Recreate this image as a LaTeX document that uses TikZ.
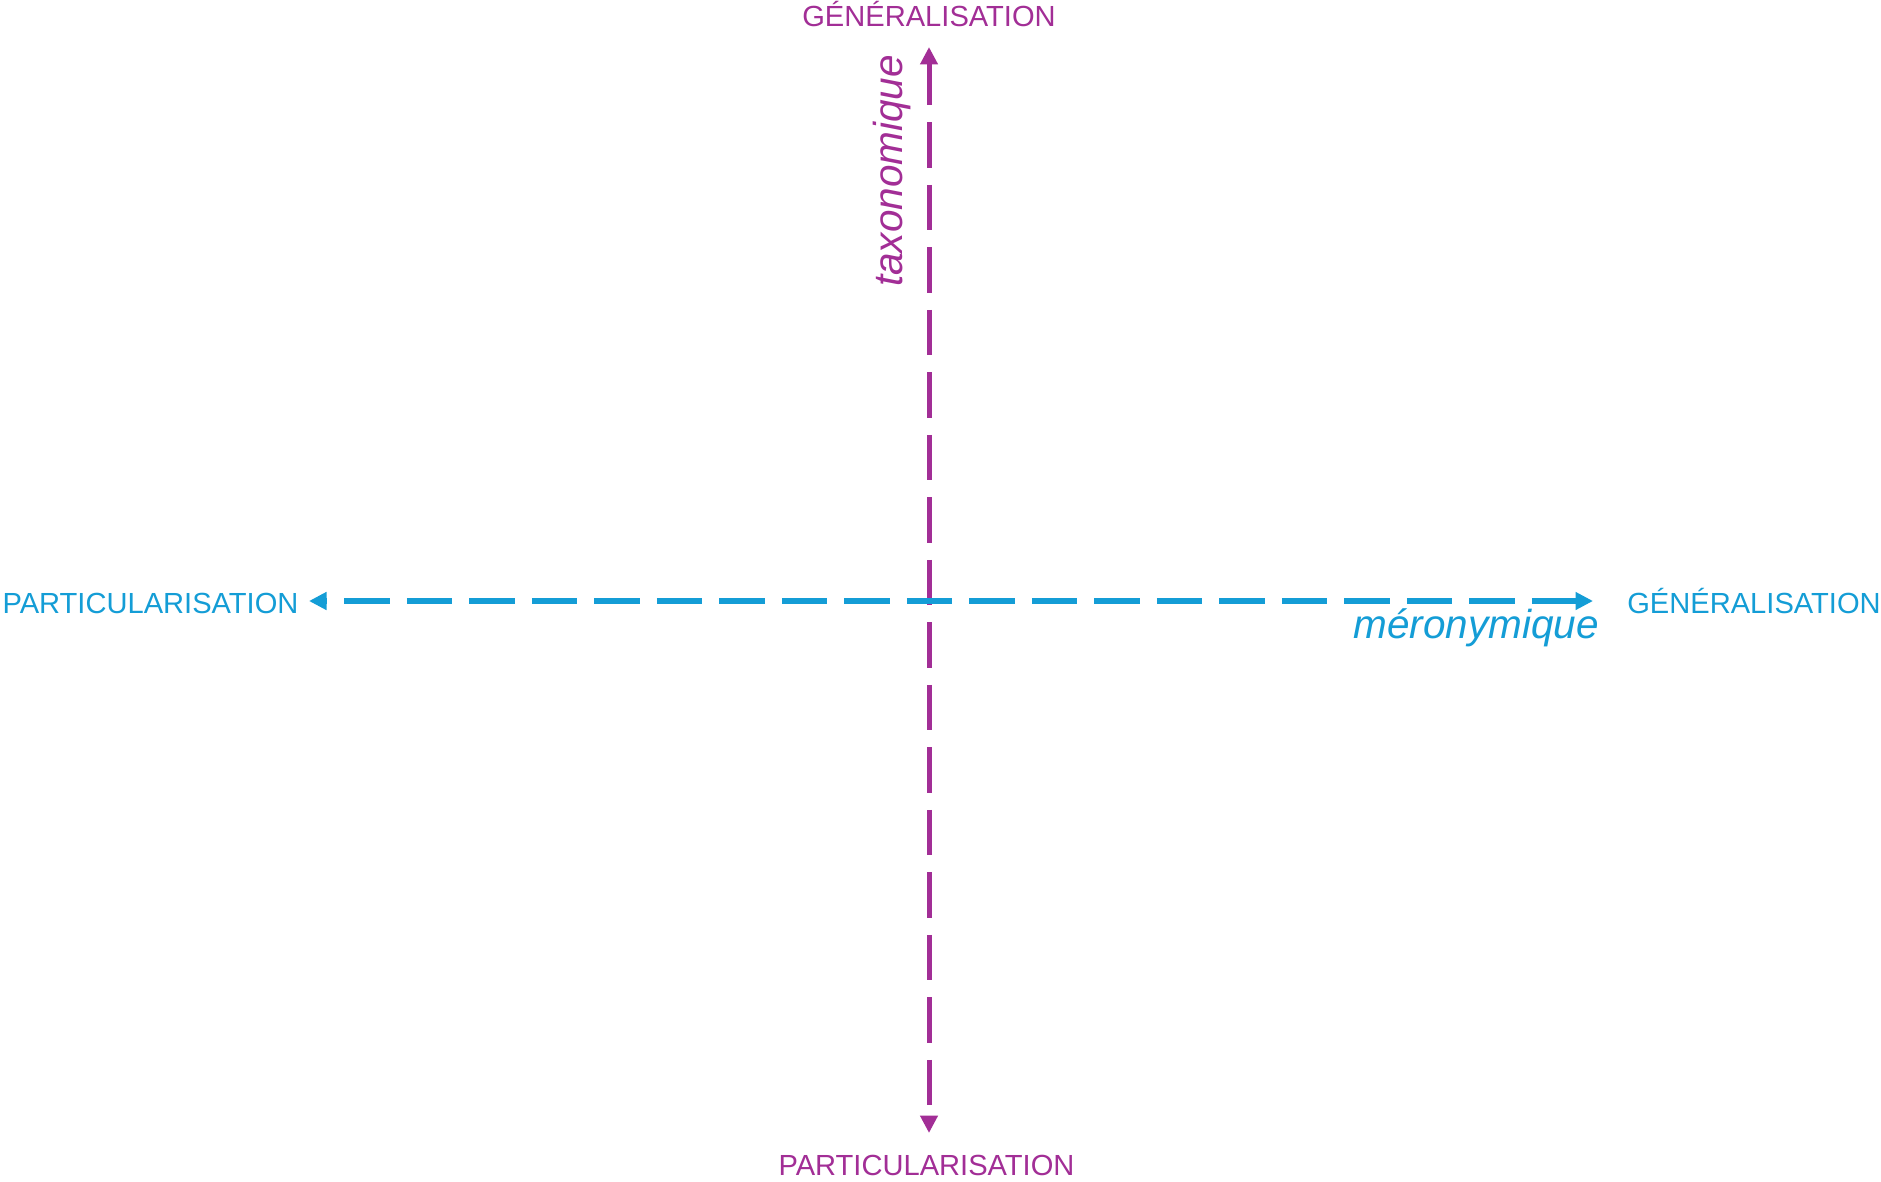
\documentclass[tikz,border=0pt]{standalone}
\usepackage{fontspec}
\setmainfont{Liberation Sans}
\usetikzlibrary{arrows.meta}
\definecolor{taxo}{RGB}{162,46,150}
\definecolor{mero}{RGB}{20,157,214}
\tikzset{
  axislabel/.style={inner sep=0pt, anchor=base, font=\fontsize{29.1}{34}\selectfont},
  axisname/.style={inner sep=0pt, anchor=base, font=\fontsize{40.5}{46}\selectfont\itshape},
  axisline/.style={dash pattern=on 45.5pt off 17pt, {Triangle[length=17.5pt,width=17pt]}-{Triangle[length=17.5pt,width=17pt]}},
}
\begin{document}
\begin{tikzpicture}[x=1pt,y=-1pt]
\useasboundingbox[fill=white] (0,0) rectangle (1881,1182);
% labels
\node[axislabel, text=taxo] (genT) at (929,27) {GÉNÉRALISATION};
\node[axislabel, text=taxo] (partB) at (926.5,1175) {PARTICULARISATION};
\node[axislabel, text=mero] (partL) at (150.5,613) {PARTICULARISATION};
\node[axislabel, text=mero] (genR) at (1754,613) {GÉNÉRALISATION};
\node[axisname, text=taxo, rotate=90] (taxoname) at (902,171) {taxonomique};
\node[axisname, text=mero] (meroname) at (1476,638) {méronymique};
% arrow tips
\coordinate (vtop) at (929,47);
\coordinate (vbot) at (929,1133);
\coordinate (hleft) at (309,601);
\coordinate (hright) at (1593,601);
% axes
\draw[axisline, taxo, line width=5pt, dash phase=3.5pt] (vtop) -- (vbot);
\draw[axisline, mero, line width=5.5pt, dash phase=43.5pt] (hleft) -- (hright);
\end{tikzpicture}
\end{document}
